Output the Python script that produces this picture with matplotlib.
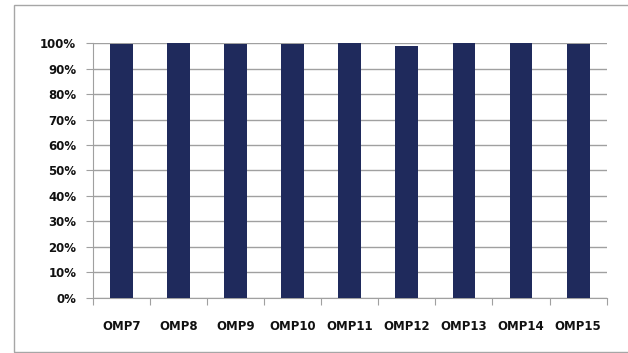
import matplotlib.pyplot as plt
from matplotlib.patches import Rectangle
from matplotlib.ticker import MultipleLocator, PercentFormatter

categories = ['OMP7', 'OMP8', 'OMP9', 'OMP10', 'OMP11', 'OMP12', 'OMP13', 'OMP14', 'OMP15']
values = [99.5, 100, 99.5, 99.5, 100, 98.8, 100, 100, 99.5]

fig = plt.figure(figsize=(6.28, 3.53), dpi=100)
fig.patches.append(Rectangle((14 / 628, 0.003), 1.0, 1 - 5 / 353 - 0.003,
                             transform=fig.transFigure, fill=False,
                             edgecolor='#a6a6a6', linewidth=1.0))

ax = fig.add_axes([0.148, 0.156, 0.818, 0.722])
x = range(len(categories))
ax.bar(x, values, width=0.4, color='#1f2a5c', zorder=3)

ax.set_xlim(-0.5, len(categories) - 0.5)
ax.set_ylim(0, 100)
ax.yaxis.set_major_locator(MultipleLocator(10))
ax.yaxis.set_major_formatter(PercentFormatter(decimals=0))
ax.grid(axis='y', color='#a0a0a0', linewidth=1.0, zorder=0)

ax.set_xticks([i - 0.5 for i in range(len(categories) + 1)], minor=False)
ax.set_xticklabels([])
ax.set_xticks(list(x), minor=True)
ax.set_xticklabels(categories, minor=True)
ax.tick_params(axis='x', which='major', length=5, color='#a0a0a0')
ax.tick_params(axis='x', which='minor', length=0, pad=16)
ax.tick_params(axis='y', length=5, color='#a0a0a0', pad=7)

for lbl in ax.get_xticklabels(minor=True) + ax.get_yticklabels():
    lbl.set_fontfamily('DejaVu Sans')
    lbl.set_fontweight('bold')
    lbl.set_fontsize(8.5)
    lbl.set_color('#111111')

for side in ['top', 'right']:
    ax.spines[side].set_visible(False)
for side in ['left', 'bottom']:
    ax.spines[side].set_color('#a0a0a0')

fig.savefig('out.png', dpi=100)
